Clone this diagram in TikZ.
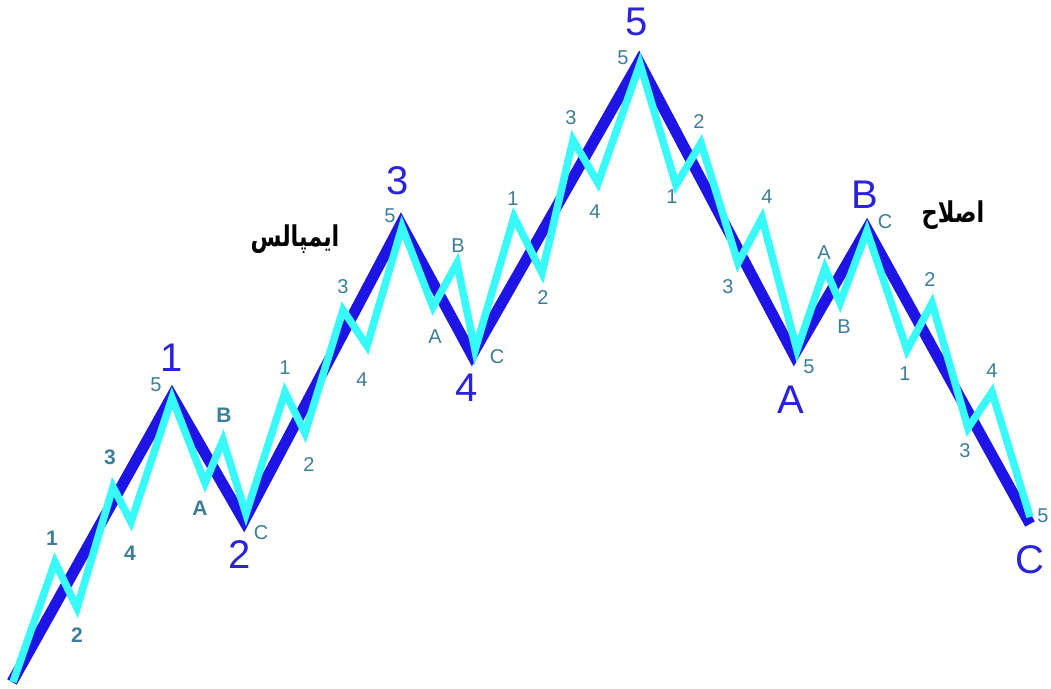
\documentclass[tikz,border=0pt]{standalone}
\usepackage{graphicx}
\usepackage{fontspec}
\setmainfont{Liberation Sans}
\newfontfamily\arabicfont[Script=Arabic]{DejaVu Sans}
\TeXXeTstate=1
\definecolor{darkwave}{HTML}{1E14E6}
\definecolor{cyanwave}{HTML}{38FAFA}
\definecolor{smalllab}{HTML}{3C7D98}
\definecolor{biglab}{HTML}{2A22DC}
\tikzset{
  mainline/.style={draw=darkwave,line width=11pt,line join=miter,miter limit=20},
  subline/.style={draw=cyanwave,line width=7.5pt,line join=miter,miter limit=20},
  biglabel/.style={text=biglab,font=\fontsize{40}{40}\selectfont,inner sep=0pt},
  smalllabel/.style={text=smalllab,font=\fontsize{20}{20}\selectfont,inner sep=0pt},
  boldlabel/.style={text=smalllab,font=\bfseries\fontsize{21}{21}\selectfont,inner sep=0pt},
  farsi/.style={text=black,font=\arabicfont\bfseries\fontsize{22}{22}\selectfont,inner sep=0pt}
}
\begin{document}
\begin{tikzpicture}[x=1pt,y=-1pt]
\useasboundingbox (0,0) rectangle (1051,688);
% main wave points
\coordinate (m0) at (12,682);
\coordinate (m1) at (172,396);
\coordinate (m2) at (244,521);
\coordinate (m3) at (401,224);
\coordinate (m4) at (472,355);
\coordinate (m5) at (639,62);
\coordinate (mA) at (794,355);
\coordinate (mB) at (867,229);
\coordinate (mC) at (1030,524);
% sub wave points
\coordinate (s0) at (13,682);
\coordinate (a1) at (55,562);
\coordinate (a2) at (77,608);
\coordinate (a3) at (113,487);
\coordinate (a4) at (131,522);
\coordinate (a5) at (172,398);
\coordinate (bA) at (205,483);
\coordinate (bB) at (223,440);
\coordinate (bC) at (246,514);
\coordinate (c1) at (285,392);
\coordinate (c2) at (305,433);
\coordinate (c3) at (343,310);
\coordinate (c4) at (367,346);
\coordinate (c5) at (402,227);
\coordinate (dA) at (433,307);
\coordinate (dB) at (457,263);
\coordinate (dC) at (475,350);
\coordinate (e1) at (514,217);
\coordinate (e2) at (542,273);
\coordinate (e3) at (573,140);
\coordinate (e4) at (598,183);
\coordinate (e5) at (640,64);
\coordinate (f1) at (676,185);
\coordinate (f2) at (701,143);
\coordinate (f3) at (738,263);
\coordinate (f4) at (762,218);
\coordinate (f5) at (797,350);
\coordinate (gA) at (825,268);
\coordinate (gB) at (840,303);
\coordinate (gC) at (867,231);
\coordinate (h1) at (907,350);
\coordinate (h2) at (932,303);
\coordinate (h3) at (968,428);
\coordinate (h4) at (992,392);
\coordinate (h5) at (1030,517);
% lines
\draw[mainline] (m0) -- (m1) -- (m2) -- (m3) -- (m4) -- (m5) -- (mA) -- (mB) -- (mC);
\draw[subline] (s0) -- (a1) -- (a2) -- (a3) -- (a4) -- (a5) -- (bA) -- (bB) -- (bC)
  -- (c1) -- (c2) -- (c3) -- (c4) -- (c5) -- (dA) -- (dB) -- (dC)
  -- (e1) -- (e2) -- (e3) -- (e4) -- (e5) -- (f1) -- (f2) -- (f3) -- (f4) -- (f5)
  -- (gA) -- (gB) -- (gC) -- (h1) -- (h2) -- (h3) -- (h4) -- (h5);
% big labels
\node[biglabel] (L1) at (172,358) {1};
\node[biglabel] (L2) at (240,555) {2};
\node[biglabel] (L3) at (398,181) {3};
\node[biglabel] (L4) at (467,388) {4};
\node[biglabel] (L5) at (637,22) {5};
\node[biglabel] (LA) at (791,400) {A};
\node[biglabel] (LB) at (865,195) {B};
\node[biglabel] (LC) at (1030,560) {C};
% small labels
\node[boldlabel] (ta1) at (52,538) {1};
\node[boldlabel] (ta2) at (77,635) {2};
\node[boldlabel] (ta3) at (110,457) {3};
\node[boldlabel] (ta4) at (130,553) {4};
\node[smalllabel] (ta5) at (156,385) {5};
\node[boldlabel] (tbA) at (200,508) {A};
\node[boldlabel] (tbB) at (224,415) {B};
\node[smalllabel] (tbC) at (261,533) {C};
\node[smalllabel] (tc1) at (285,368) {1};
\node[smalllabel] (tc2) at (309,465) {2};
\node[smalllabel] (tc3) at (343,287) {3};
\node[smalllabel] (tc4) at (362,380) {4};
\node[smalllabel] (tc5) at (390,216) {5};
\node[smalllabel] (tdA) at (435,337) {A};
\node[smalllabel] (tdB) at (458,246) {B};
\node[smalllabel] (tdC) at (497,357) {C};
\node[smalllabel] (te1) at (513,199) {1};
\node[smalllabel] (te2) at (543,298) {2};
\node[smalllabel] (te3) at (571,118) {3};
\node[smalllabel] (te4) at (595,212) {4};
\node[smalllabel] (te5) at (623,58) {5};
\node[smalllabel] (tf1) at (672,197) {1};
\node[smalllabel] (tf2) at (699,122) {2};
\node[smalllabel] (tf3) at (728,287) {3};
\node[smalllabel] (tf4) at (767,197) {4};
\node[smalllabel] (tf5) at (809,367) {5};
\node[smalllabel] (tgA) at (824,253) {A};
\node[smalllabel] (tgB) at (844,327) {B};
\node[smalllabel] (tgC) at (885,222) {C};
\node[smalllabel] (th1) at (905,374) {1};
\node[smalllabel] (th2) at (930,280) {2};
\node[smalllabel] (th3) at (965,451) {3};
\node[smalllabel] (th4) at (992,371) {4};
\node[smalllabel] (th5) at (1043,516) {5};
% Persian text
\node[farsi] (impulse) at (295,239) {\scalebox{1.02}[1.3]{\beginR ایمپالس\endR}};
\node[farsi] (correction) at (953,215) {\scalebox{1.02}[1.3]{\beginR اصلاح\endR}};
\end{tikzpicture}
\end{document}
